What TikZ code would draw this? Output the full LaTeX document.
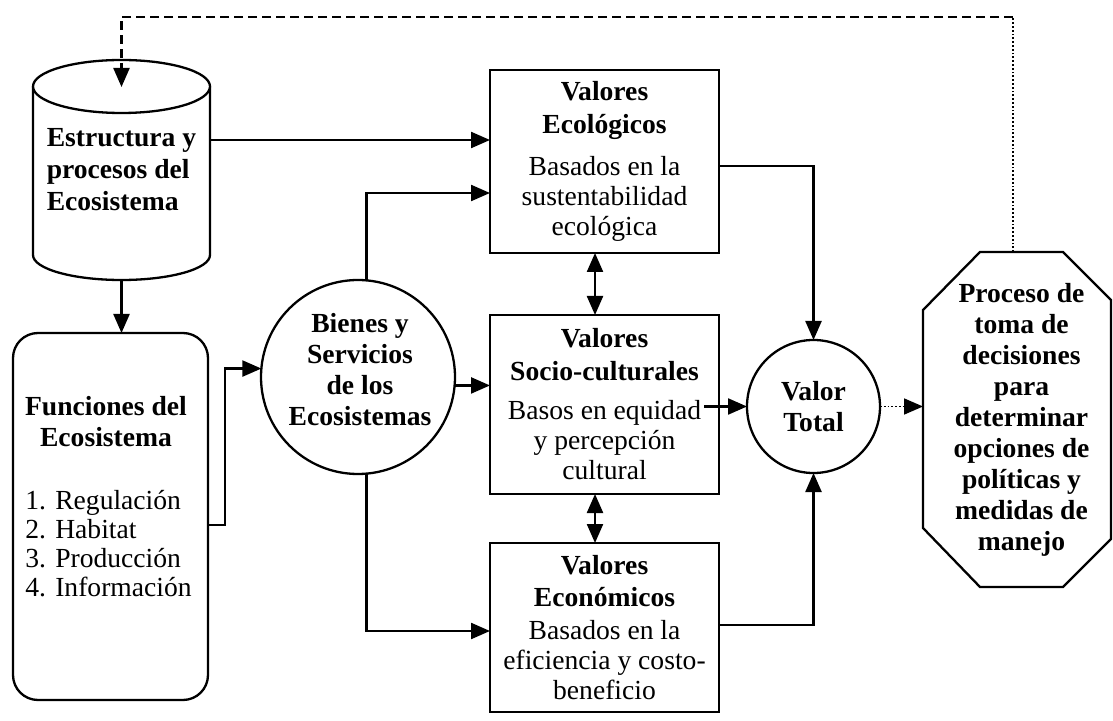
\documentclass[tikz,border=0pt]{standalone}
\usepackage{fontspec}
\setmainfont{Liberation Serif}
\usetikzlibrary{arrows.meta}
\begin{document}
\begin{tikzpicture}[x=0.5pt,y=-0.5pt,
  lw/.style={line width=1.15pt},
  valbox/.style={draw, lw, fill=white, inner sep=0pt, outer sep=0pt, minimum width=114.5pt, align=center, font=\fontsize{13.8}{15}\selectfont},
  bold/.style={align=center, inner sep=0pt, outer sep=0pt, font=\fontsize{13.8}{15.5}\selectfont\bfseries},
  roundnode/.style={draw, lw, circle, inner sep=0pt, outer sep=0pt},
  tip/.style={-{Triangle[length=9.5pt,width=8pt]}},
  arr/.style={lw, tip},
  darr/.style={lw, {Triangle[length=9.5pt,width=8pt]}-{Triangle[length=9.5pt,width=8pt]}},
  dotarr/.style={line width=0.9pt, densely dotted, tip},
  dashline/.style={lw, dash pattern=on 4.5pt off 2.5pt},
]
\useasboundingbox (0,0) rectangle (1113,721);

% cylinder
\draw[lw, fill=white] (33,86.5) -- (33,255) arc[start angle=180, end angle=360, x radius=44.25pt, y radius=12.5pt] -- (210,86.5);
\draw[lw, fill=white] (121.5,86.5) ellipse[x radius=44.25pt, y radius=13.25pt];
\node[bold, align=left, minimum width=88.5pt, minimum height=110pt] (cyl) at (121.5,170) {Estructura y\\[0.5pt]procesos del\\[0.5pt]Ecosistema};

% Funciones
\node[draw, lw, rounded corners=12.5pt, minimum width=97.5pt, minimum height=183.5pt, inner sep=0pt, outer sep=0pt] (fun) at (110.5,516.5) {};
\node[bold] (funt) at (106,422) {Funciones del\\Ecosistema};
\node[anchor=west, align=left, inner sep=0pt, font=\fontsize{13.8}{14.5}\selectfont] (funl) at (25,543.5) {1. Regulación\\2. Habitat\\3. Producción\\4. Información};

% Bienes
\node[roundnode, minimum size=97pt] (bienes) at (358,377) {};
\node[bold] (bienest) at (360,370) {Bienes y\\Servicios\\de los\\Ecosistemas};

% value boxes
\node[valbox, minimum height=91.5pt] (eco) at (604.5,161.5) {\textbf{Valores}\\[1.5pt]\textbf{Ecológicos}\\[6pt]Basados en la\\sustentabilidad\\ecológica};
\node[valbox, minimum height=89.5pt] (socio) at (604.5,404.5) {\textbf{Valores}\\[1.5pt]\textbf{Socio-culturales}\\[4.5pt]Basos en equidad\\y percepción\\cultural};
\node[valbox, minimum height=84.5pt] (econ) at (604.5,627.5) {\textbf{Valores}\\[1pt]\textbf{Económicos}\\[1.5pt]Basados en la\\eficiencia y costo-\\beneficio};

% Valor total
\node[roundnode, bold, minimum size=66.5pt] (vt) at (813.5,406.5) {Valor\\Total};

% octagon
\draw[lw, fill=white] (980,252) -- (1063,252) -- (1111,300) -- (1111,539) -- (1063,587) -- (980,587) -- (923,528) -- (923,310) -- cycle;
\node[bold, minimum width=98.5pt, minimum height=167.5pt] (oct) at (1021.5,419.5) {Proceso de\\toma de\\decisiones\\para\\determinar\\opciones de\\políticas y\\medidas de\\manejo};

% helper coordinates
\coordinate (h140) at (0,140);
\coordinate (h166) at (0,166);
\coordinate (h193) at (0,193);
\coordinate (h525) at (0,525);
\coordinate (h625) at (0,625);
\coordinate (h631) at (0,631);
\coordinate (v225) at (225,0);
\coordinate (v595) at (595,0);
\coordinate (fb) at (1013,17);
\coordinate (cyltop) at (121.5,87);

% connectors
\draw[arr] (cyl.south) -- (cyl.south |- fun.north);
\draw[arr] (cyl.east |- h140) -- (eco.west |- h140);
\draw[arr] (fun.east |- h525) -| (v225 |- bienes.175) -- (bienes.175);
\draw[arr] (bienes.85) |- (eco.west |- h193);
\draw[arr] (bienes.275) |- (econ.west |- h631);
\draw[arr] (bienes.355) -- (bienes.355 -| socio.west);
\draw[darr] (eco.south -| v595) -- (socio.north -| v595);
\draw[darr] (socio.south -| v595) -- (econ.north -| v595);
\draw[arr] (eco.east |- h166) -| (vt.north);
\draw[arr] (socio.east |- vt.west) ++(-15,0) -- (vt.west);
\draw[arr] (econ.east |- h625) -| (vt.south);
\draw[dotarr] (vt.east) -- (vt.east -| oct.west);
\draw[line width=0.9pt, densely dotted] (oct.north -| fb) -- (fb);
\draw[dashline, tip] (fb) -| (cyltop);
\end{tikzpicture}
\end{document}
